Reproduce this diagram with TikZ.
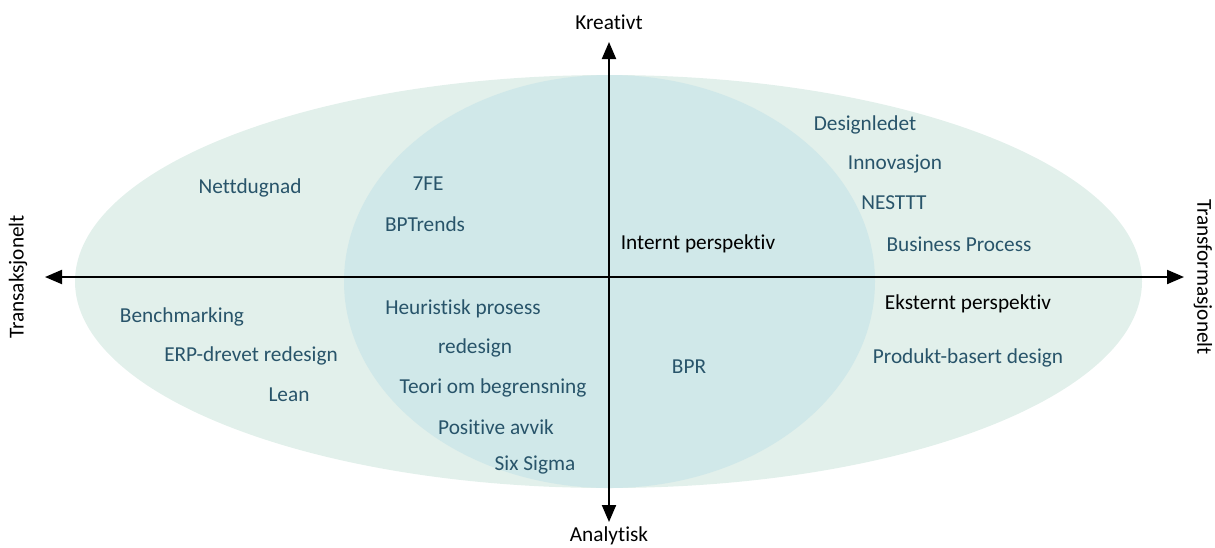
\documentclass[tikz,border=0pt]{standalone}
\usepackage{fontspec}
\setmainfont{Carlito}[Ligatures={NoCommon}]
\usetikzlibrary{arrows.meta}
\definecolor{outerfill}{HTML}{E2F0EB}
\definecolor{innerfill}{HTML}{D0E8E9}
\definecolor{itemtext}{HTML}{28546A}
\tikzset{
  item/.style={text=itemtext, font=\fontsize{21.3}{24}\selectfont, inner sep=0pt},
  persp/.style={text=black, font=\fontsize{21.3}{24}\selectfont, inner sep=0pt},
  axislabel/.style={text=black, font=\fontsize{21.3}{24}\selectfont, inner sep=0pt},
  axis/.style={line width=2pt, {Triangle[length=17pt,width=14pt]}-{Triangle[length=17pt,width=14pt]}}
}
\begin{document}
\begin{tikzpicture}[x=1pt,y=-1pt]
\useasboundingbox (0,0) rectangle (1215,547);
% the two overlapping regions
\fill[outerfill] (608.5,281.5) ellipse [x radius=533.5pt, y radius=206.5pt];
\fill[innerfill] (609.5,281.5) ellipse [x radius=265.5pt, y radius=206.5pt];

% axis ends
\coordinate (top) at (609,42);
\coordinate (bottom) at (609,522);
\coordinate (left) at (45,277);
\coordinate (right) at (1184,277);
\draw[axis] (bottom) -- (top);
\draw[axis] (left) -- (right);

% axis labels
\node[axislabel] (kreativt) at (609,22) {Kreativt};
\node[axislabel] (analytisk) at (609,536) {Analytisk};
\node[axislabel, rotate=90] (transaksjonelt) at (18,277) {Transaksjonelt};
\node[axislabel, rotate=-90] (transformasjonelt) at (1203,277) {Transformasjonelt};

% upper left
\node[item] (nettdugnad) at (250,188) {Nettdugnad};
\node[item] (sevenfe) at (428,184) {7FE};
\node[item] (bptrends) at (425,224) {BPTrends};

% upper right
\node[persp] (internt) at (698,244) {Internt perspektiv};
\node[item] (designledet) at (865,125) {Designledet};
\node[item] (innovasjon) at (895,164) {Innovasjon};
\node[item] (nesttt) at (894,203) {NESTTT};
\node[item] (bp) at (959,244) {Business Process};

% lower right
\node[persp] (eksternt) at (968,304) {Eksternt perspektiv};
\node[item] (produkt) at (968,358) {Produkt-basert design};
\node[item] (bpr) at (689,367) {BPR};

% lower left
\node[item] (benchmarking) at (182,317) {Benchmarking};
\node[item] (erp) at (251,356) {ERP-drevet redesign};
\node[item] (lean) at (289,395) {Lean};
\node[item] (heuristisk) at (463,309) {Heuristisk prosess};
\node[item] (redesign) at (475,348) {redesign};
\node[item] (teori) at (493,388) {Teori om begrensning};
\node[item] (positive) at (496,427) {Positive avvik};
\node[item] (sixsigma) at (535,465) {Six Sigma};
\end{tikzpicture}
\end{document}
